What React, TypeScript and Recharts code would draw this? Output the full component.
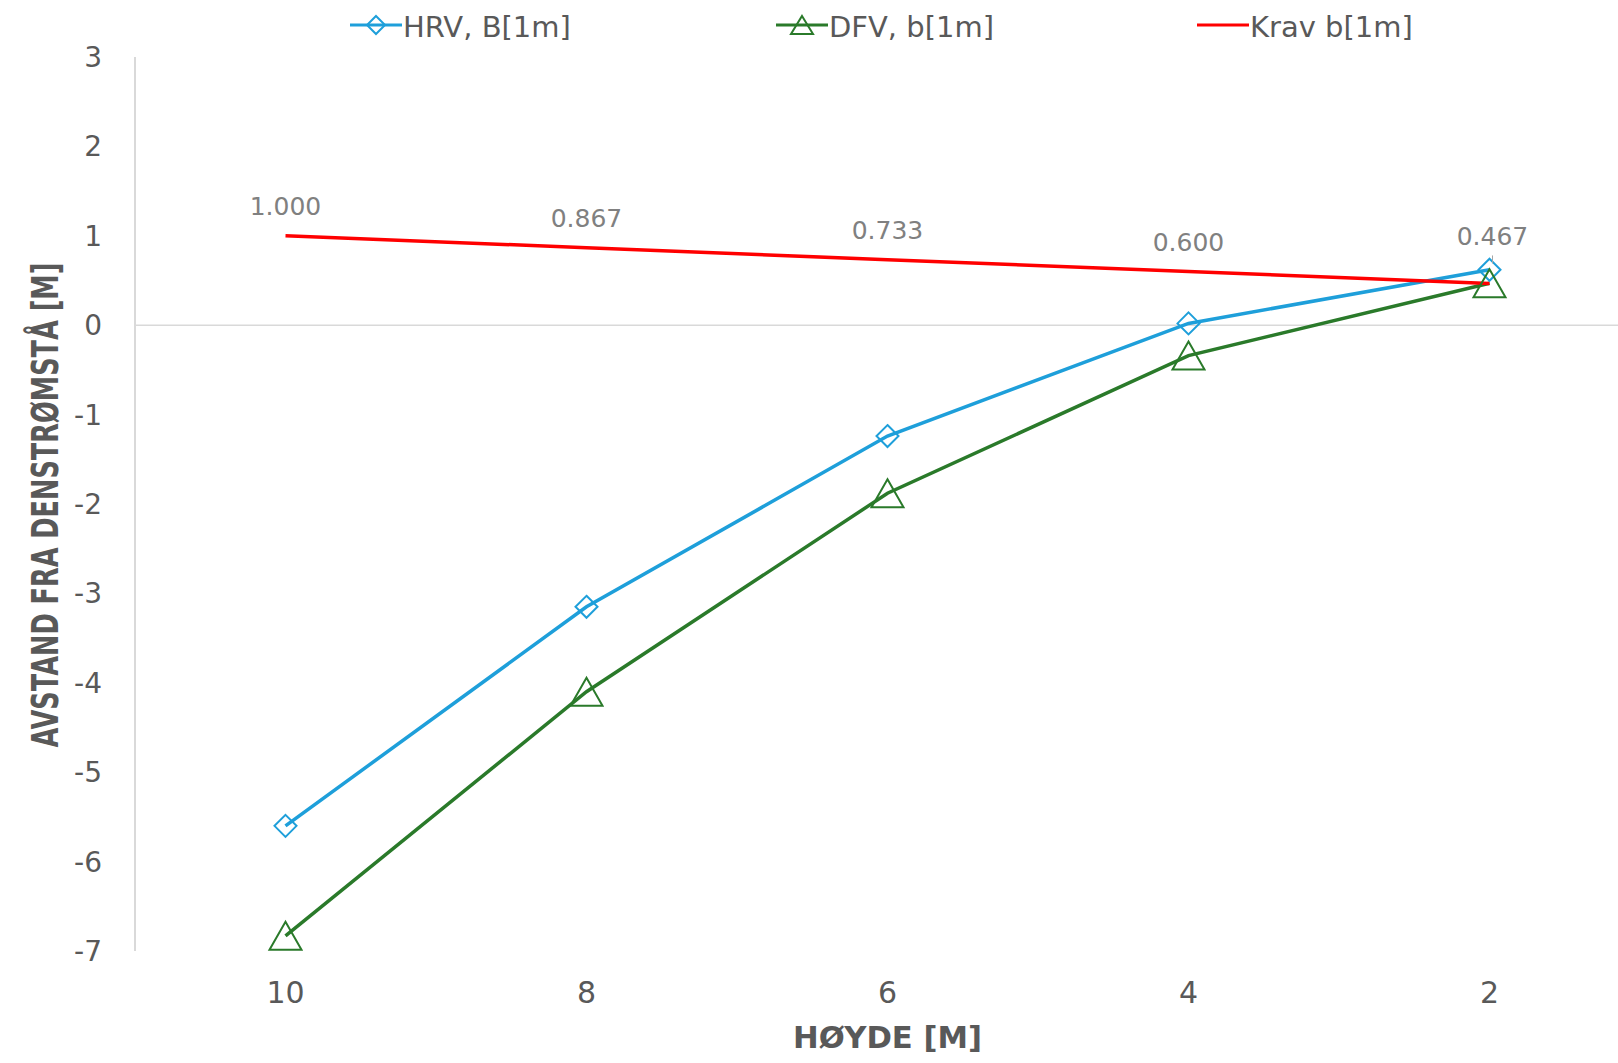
import { LineChart, Line, XAxis, YAxis, ReferenceLine, Legend, LabelList } from "recharts";

// høyde langs x-aksen (synkende)
const heights = ["10", "8", "6", "4", "2"];
const hrvValues = [-5.6, -3.15, -1.24, 0.02, 0.62];
const dfvValues = [-6.83, -4.1, -1.88, -0.34, 0.47];
const kravValues = [1.0, 0.867, 0.733, 0.6, 0.467];
const yTicks = [-7, -6, -5, -4, -3, -2, -1, 0, 1, 2, 3];

const data = heights.map((h, i) => ({
  h,
  hrv: hrvValues[i],
  dfv: dfvValues[i],
  krav: kravValues[i],
}));

const BLUE = "#1E9FDA";
const GREEN = "#2A7A2A";
const RED = "#FF0000";
const AXIS_GREY = "#D9D9D9";
const TEXT_GREY = "#595959";
const FONT = "'DejaVu Sans', Verdana, sans-serif";

const SERIES_ORDER = ["hrv", "dfv", "krav"];
const LEGEND_X = [350, 776, 1197];

function Diamond({ cx, cy, r = 11, sw = 2 }: any) {
  if (cx == null || cy == null) return null;
  return (
    <path
      d={`M${cx},${cy - r}L${cx + r},${cy}L${cx},${cy + r}L${cx - r},${cy}Z`}
      fill="none"
      stroke={BLUE}
      strokeWidth={sw}
    />
  );
}

function Triangle({ cx, cy, w = 16, h = 14, sw = 2 }: any) {
  if (cx == null || cy == null) return null;
  return (
    <path
      d={`M${cx},${cy - h}L${cx + w},${cy + h}L${cx - w},${cy + h}Z`}
      fill="none"
      stroke={GREEN}
      strokeWidth={sw}
    />
  );
}

function KravLabel(props: any) {
  const { x, y, value, index } = props;
  const last = index === kravValues.length - 1;
  return (
    <g>
      {last && <line x1={x + 3} y1={y - 28} x2={x + 3} y2={y - 20} stroke="#A6A6A6" strokeWidth={1} />}
      <text
        x={x + (last ? 3 : 0)}
        y={y - (last ? 38 : 21)}
        textAnchor="middle"
        fontSize={25}
        fontFamily={FONT}
        fill="#808080"
      >
        {Number(value).toFixed(3)}
      </text>
    </g>
  );
}

function XTick({ x, y, payload }: any) {
  return (
    <text x={x} y={y + 44} textAnchor="middle" fontSize={30} fontFamily={FONT} fill={TEXT_GREY}>
      {payload.value}
    </text>
  );
}

function YTick({ x, y, payload }: any) {
  return (
    <text x={x - 25} y={y + 10} textAnchor="end" fontSize={28} fontFamily={FONT} fill={TEXT_GREY}>
      {payload.value}
    </text>
  );
}

function LegendContent({ payload }: any) {
  const items = [...(payload || [])].sort(
    (a: any, b: any) => SERIES_ORDER.indexOf(a.dataKey) - SERIES_ORDER.indexOf(b.dataKey)
  );
  return (
    <svg width={1640} height={50}>
      {items.map((p: any, i: number) => {
        const x0 = LEGEND_X[i];
        const cx = x0 + 26;
        return (
          <g key={p.value}>
            <line x1={x0} y1={25} x2={x0 + 52} y2={25} stroke={p.color} strokeWidth={3} />
            {p.dataKey === "hrv" && <Diamond cx={cx} cy={25} r={9} />}
            {p.dataKey === "dfv" && <Triangle cx={cx} cy={25} w={11} h={9} />}
            <text x={x0 + 53} y={37} fontSize={29} fontFamily={FONT} fill={TEXT_GREY}>
              {p.value}
            </text>
          </g>
        );
      })}
    </svg>
  );
}

export default function App() {
  return (
    <div
      style={{
        position: "absolute",
        left: 0,
        top: 0,
        width: 1618,
        height: 1063,
        overflow: "hidden",
        background: "#fff",
      }}
    >
      <LineChart width={1640} height={1063} data={data} margin={{ top: 57, right: 0, bottom: 0, left: 0 }}>
        <XAxis
          dataKey="h"
          scale="band"
          height={112}
          axisLine={false}
          tickLine={false}
          tick={<XTick />}
          interval={0}
          label={({ viewBox }: any) => (
            <text
              x={viewBox.x + viewBox.width / 2}
              y={1048}
              textAnchor="middle"
              fontSize={30}
              fontWeight="bold"
              fontFamily={FONT}
              fill={TEXT_GREY}
              textLength={189}
              lengthAdjust="spacingAndGlyphs"
            >
              HØYDE [M]
            </text>
          )}
        />
        <YAxis
          width={135}
          domain={[-7, 3]}
          ticks={yTicks}
          interval={0}
          allowDataOverflow
          tickLine={false}
          axisLine={{ stroke: AXIS_GREY, strokeWidth: 2 }}
          tick={<YTick />}
          label={() => (
            <text
              x={58}
              y={505}
              transform="rotate(-90 58 505)"
              textAnchor="middle"
              fontSize={38}
              fontWeight="bold"
              fontFamily={FONT}
              fill={TEXT_GREY}
              textLength={485}
              lengthAdjust="spacingAndGlyphs"
            >
              AVSTAND FRA DENSTRØMSTÅ [M]
            </text>
          )}
        />
        <ReferenceLine y={0} stroke={AXIS_GREY} strokeWidth={1.5} />
        <Legend
          layout="horizontal"
          verticalAlign="middle"
          align="center"
          wrapperStyle={{ top: 0, left: 0, width: 1640, height: 50 }}
          content={<LegendContent />}
        />
        <Line
          name="HRV, B[1m]"
          dataKey="hrv"
          stroke={BLUE}
          strokeWidth={3.5}
          isAnimationActive={false}
          dot={(p: any) => <Diamond key={`hrv-${p.index}`} cx={p.cx} cy={p.cy} />}
          activeDot={false}
        />
        <Line
          name="DFV, b[1m]"
          dataKey="dfv"
          stroke={GREEN}
          strokeWidth={3.5}
          isAnimationActive={false}
          dot={(p: any) => <Triangle key={`dfv-${p.index}`} cx={p.cx} cy={p.cy} />}
          activeDot={false}
        />
        <Line
          name="Krav b[1m]"
          dataKey="krav"
          stroke={RED}
          strokeWidth={3.5}
          isAnimationActive={false}
          dot={false}
          activeDot={false}
        >
          <LabelList dataKey="krav" content={<KravLabel />} />
        </Line>
      </LineChart>
    </div>
  );
}
